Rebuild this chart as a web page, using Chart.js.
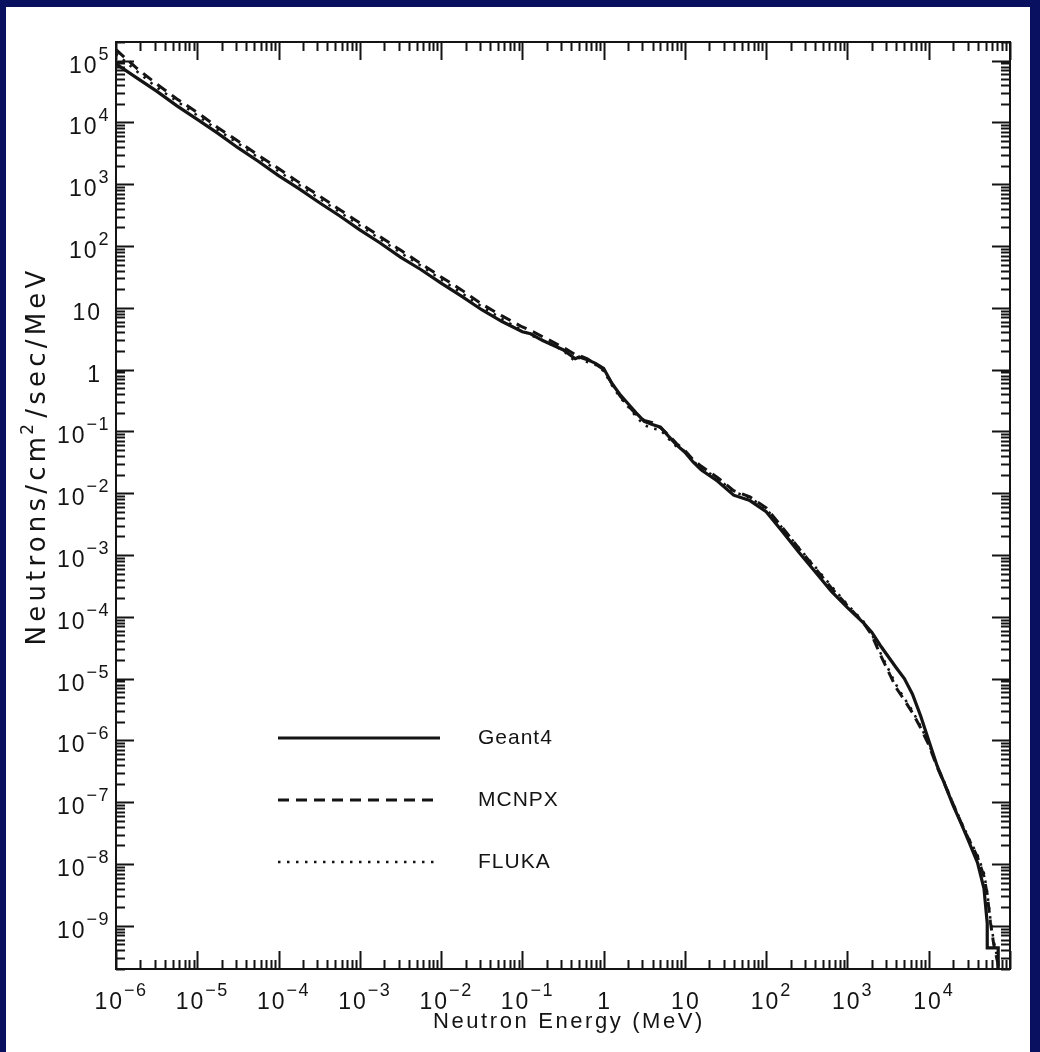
<!DOCTYPE html>
<html lang="en">
<head>
  <meta charset="UTF-8">
  <title>Neutron spectrum: Geant4 / MCNPX / FLUKA</title>
  <script src="https://cdn.jsdelivr.net/npm/chart.js"></script>
  <style>
    html, body { margin: 0; padding: 0; }
    body { width: 1040px; height: 1052px; background: #0a1060; position: relative; overflow: hidden; }
    .panel { position: absolute; left: 6px; top: 7px; width: 1024px; height: 1045px; background: #fff; }
    canvas { display: block; }
  </style>
</head>
<body>
  <div class="panel">
    <canvas id="spectrum" width="1024" height="1045"></canvas>
  </div>

  <script>
    // energy grid (MeV) shared by the three codes
    const energy = [
      1e-6, 1.78e-6, 3.16e-6, 5.62e-6, 1e-5, 1.78e-5, 3.16e-5, 5.62e-5,
      1e-4, 1.78e-4, 3.16e-4, 5.62e-4, 1e-3, 1.78e-3, 3.16e-3, 5.62e-3,
      0.01, 0.0178, 0.0316, 0.0562, 0.1, 0.126, 0.178, 0.316, 0.447, 0.5, 0.631, 0.794,
      1.0, 1.26, 1.58, 2.0, 2.51, 3.16, 3.98, 5.01, 6.31, 7.94,
      10, 12.6, 15.8, 25.1, 39.8, 63.1, 100, 158, 251, 398, 631,
      1000, 1585, 2000, 2512, 3981, 5012, 6310, 7943, 10000, 12590, 15850,
      19950, 25120, 31620, 39810
    ];

    // neutrons / cm2 / sec / MeV
    const geant4 = [
      8.9e4, 5.3e4, 3.2e4, 1.85e4, 1.12e4, 6.7e3, 3.9e3, 2.35e3,
      1.38e3, 850, 505, 309, 182, 112, 66, 41.7,
      25.1, 15.4, 9.3, 6.0, 4.1, 3.8, 2.95, 2.1, 1.5, 1.6, 1.45, 1.26,
      1.05, 0.60, 0.40, 0.28, 0.20, 0.145, 0.129, 0.117, 0.083, 0.060,
      0.046, 0.032, 0.024, 0.0158, 0.0093, 0.0076, 0.0050, 0.0024, 0.00112, 5.4e-4, 2.6e-4,
      1.41e-4, 7.9e-5, 5.6e-5, 3.5e-5, 1.5e-5, 1.0e-5, 5.6e-6, 2.5e-6, 1.0e-6, 4.0e-7, 1.9e-7,
      8.9e-8, 4.5e-8, 2.2e-8, 1.05e-8
    ];
    const mcnpx = [
      1.5e5, 7.6e4, 4.2e4, 2.4e4, 1.45e4, 8.3e3, 5.0e3, 2.95e3,
      1.8e3, 1.07e3, 650, 389, 236, 141, 86, 52,
      31.6, 19.5, 11.5, 7.4, 4.9, 4.3, 3.4, 2.3, 1.75, 1.7, 1.5, 1.23,
      1.0, 0.60, 0.38, 0.26, 0.19, 0.15, 0.138, 0.115, 0.087, 0.063,
      0.049, 0.035, 0.0275, 0.018, 0.011, 0.0087, 0.0058, 0.0028, 0.00129, 6.2e-4, 2.95e-4,
      1.51e-4, 7.9e-5, 5.0e-5, 2.5e-5, 7.1e-6, 4.5e-6, 2.8e-6, 1.6e-6, 8.5e-7, 3.8e-7, 1.9e-7,
      9.3e-8, 4.6e-8, 2.4e-8, 1.3e-8
    ];
    const fluka = [
      1.3e5, 6.8e4, 3.7e4, 2.2e4, 1.3e4, 7.6e3, 4.6e3, 2.7e3,
      1.62e3, 977, 589, 355, 214, 129, 78, 48,
      28.8, 17.4, 10.5, 6.6, 4.3, 3.6, 3.0, 2.05, 1.35, 1.55, 1.32, 1.2,
      0.95, 0.56, 0.36, 0.25, 0.174, 0.126, 0.112, 0.105, 0.076, 0.056,
      0.048, 0.033, 0.026, 0.0174, 0.0105, 0.0085, 0.0056, 0.00275, 0.00132, 6.5e-4, 3.16e-4,
      1.58e-4, 8.3e-5, 5.2e-5, 2.7e-5, 7.9e-6, 4.8e-6, 3.0e-6, 1.7e-6, 8.9e-7, 4.0e-7, 2.0e-7,
      9.6e-8, 4.8e-8, 2.5e-8, 1.4e-8
    ];

    // high-energy cut-off tails
    const geant4TailE = [47860, 52480, 52480, 71610, 71610];
    const geant4Tail  = [4.0e-9, 1.1e-9, 4.4e-10, 4.4e-10, 1e-10];
    const mcnpxTailE  = [47860, 52480, 57540, 63100, 70790, 79430];
    const mcnpxTail   = [6.3e-9, 3.2e-9, 1.12e-9, 5e-10, 2.5e-10, 1e-10];
    const flukaTailE  = [47860, 52480, 57540, 63100, 70790, 79430];
    const flukaTail   = [7.1e-9, 3.5e-9, 1.26e-9, 5.6e-10, 2.8e-10, 1e-10];

    // axis decades
    const xTickExps = [-6, -5, -4, -3, -2, -1, 0, 1, 2, 3, 4];
    const yTickExps = [-9, -8, -7, -6, -5, -4, -3, -2, -1, 0, 1, 2, 3, 4, 5];
    const minorSteps = [2, 3, 4, 5, 6, 7, 8, 9];

    const FONT = '"Liberation Sans", Arial, sans-serif';
    const TITLE_FONT = '"DejaVu Sans", sans-serif';
    const INK = '#141414';

    function pts(xs, ys) {
      return xs.map((x, i) => ({ x: x, y: ys[i] }));
    }

    // "10" with a raised exponent, measured as one group
    function powerParts(ctx, e) {
      const base = e === 0 ? '1' : '10';
      const sup = (e === 0 || e === 1) ? '' : String(e).replace('-', '\u2212');
      ctx.letterSpacing = '2px';
      ctx.font = '23px ' + FONT;
      const baseW = ctx.measureText(base).width;
      ctx.letterSpacing = '1.5px';
      ctx.font = '18px ' + FONT;
      const supW = sup ? ctx.measureText(sup).width : 0;
      return { base, sup, baseW, supW, w: baseW + supW };
    }

    function drawPower(ctx, p, left, y) {
      ctx.textAlign = 'left';
      ctx.textBaseline = 'alphabetic';
      ctx.letterSpacing = '2px';
      ctx.font = '23px ' + FONT;
      ctx.fillText(p.base, left, y);
      if (p.sup) {
        ctx.letterSpacing = '1.5px';
        ctx.font = '18px ' + FONT;
        ctx.fillText(p.sup, left + p.baseW, y - 13);
      }
    }

    const frame = {
      id: 'frame',
      afterDraw(chart) {
        const ctx = chart.ctx;
        const a = chart.chartArea;
        const xs = chart.scales.x;
        const ys = chart.scales.y;
        ctx.save();
        ctx.strokeStyle = INK;
        ctx.fillStyle = INK;
        ctx.lineWidth = 2;
        ctx.strokeRect(a.left, a.top, a.right - a.left, a.bottom - a.top);

        // inward tick marks on all four sides
        ctx.beginPath();
        for (let e = -6; e <= 5; e++) {
          [1].concat(minorSteps).forEach(m => {
            const v = m * Math.pow(10, e);
            if (v < xs.min || v > xs.max) return;
            const px = Math.round(xs.getPixelForValue(v)) + 0.5;
            const len = m === 1 ? 18 : 9;
            ctx.moveTo(px, a.bottom); ctx.lineTo(px, a.bottom - len);
            ctx.moveTo(px, a.top); ctx.lineTo(px, a.top + len);
          });
        }
        for (let e = -10; e <= 5; e++) {
          [1].concat(minorSteps).forEach(m => {
            const v = m * Math.pow(10, e);
            if (v < ys.min || v > ys.max) return;
            const py = Math.round(ys.getPixelForValue(v)) + 0.5;
            const len = m === 1 ? 18 : 9;
            ctx.moveTo(a.left, py); ctx.lineTo(a.left + len, py);
            ctx.moveTo(a.right, py); ctx.lineTo(a.right - len, py);
          });
        }
        ctx.stroke();

        // tick labels
        xTickExps.forEach(e => {
          const px = xs.getPixelForValue(Math.pow(10, e));
          const p = powerParts(ctx, e);
          const shift = p.sup ? 5 : 1;
          drawPower(ctx, p, px + shift - p.w / 2, a.bottom + 40);
        });
        yTickExps.forEach(e => {
          const py = ys.getPixelForValue(Math.pow(10, e));
          const p = powerParts(ctx, e);
          const right = p.sup ? a.left - 6 : a.left - 14;
          drawPower(ctx, p, right - p.w, py + 12);
        });

        // axis titles
        ctx.letterSpacing = '2.6px';
        ctx.font = '22px ' + FONT;
        ctx.textAlign = 'center';
        ctx.fillText('Neutron Energy (MeV)', (a.left + a.right) / 2 + 6, a.bottom + 59);

        ctx.translate(39, 449);
        ctx.rotate(-Math.PI / 2);
        ctx.letterSpacing = '4.2px';
        ctx.font = '26px ' + TITLE_FONT;
        const t1 = 'Neutrons/cm', t2 = '/sec/MeV';
        const w1 = ctx.measureText(t1).width;
        const w2 = ctx.measureText(t2).width;
        ctx.font = '17px ' + TITLE_FONT;
        const ws = ctx.measureText('2').width;
        const start = -(w1 + ws + w2) / 2;
        ctx.textAlign = 'left';
        ctx.font = '26px ' + TITLE_FONT;
        ctx.fillText(t1, start, 0);
        ctx.font = '17px ' + TITLE_FONT;
        ctx.fillText('2', start + w1 - 2, -12);
        ctx.font = '26px ' + TITLE_FONT;
        ctx.fillText(t2, start + w1 + ws, 0);
        ctx.restore();

        // legend inside the plot
        ctx.save();
        chart.data.datasets.forEach((ds, i) => {
          const y = 731 + i * 62;
          ctx.beginPath();
          ctx.strokeStyle = INK;
          ctx.lineWidth = ds.borderWidth;
          ctx.setLineDash(ds.borderDash || []);
          ctx.moveTo(272, y);
          ctx.lineTo(434, y);
          ctx.stroke();
          ctx.setLineDash([]);
          ctx.letterSpacing = '1px';
          ctx.fillStyle = INK;
          ctx.font = '21px ' + FONT;
          ctx.textAlign = 'left';
          ctx.textBaseline = 'middle';
          ctx.fillText(ds.label, 472, y);
        });
        ctx.restore();
      }
    };

    new Chart(document.getElementById('spectrum'), {
      type: 'line',
      data: {
        datasets: [
          {
            label: 'Geant4',
            data: pts(energy.concat(geant4TailE), geant4.concat(geant4Tail)),
            borderColor: INK,
            borderWidth: 3.2
          },
          {
            label: 'MCNPX',
            data: pts(energy.concat(mcnpxTailE), mcnpx.concat(mcnpxTail)),
            borderColor: INK,
            borderWidth: 3,
            borderDash: [11, 7]
          },
          {
            label: 'FLUKA',
            data: pts(energy.concat(flukaTailE), fluka.concat(flukaTail)),
            borderColor: INK,
            borderWidth: 2.5,
            borderDash: [2.5, 6.5]
          }
        ]
      },
      options: {
        responsive: false,
        animation: false,
        devicePixelRatio: 1,
        layout: { padding: { left: 110, top: 35, right: 20, bottom: 83 } },
        elements: { point: { radius: 0 }, line: { tension: 0 } },
        plugins: { legend: { display: false }, tooltip: { enabled: false } },
        scales: {
          x: { type: 'logarithmic', min: 1e-6, max: 1e5, display: false },
          y: { type: 'logarithmic', min: 2e-10, max: 2e5, display: false }
        }
      },
      plugins: [frame]
    });
  </script>
</body>
</html>
